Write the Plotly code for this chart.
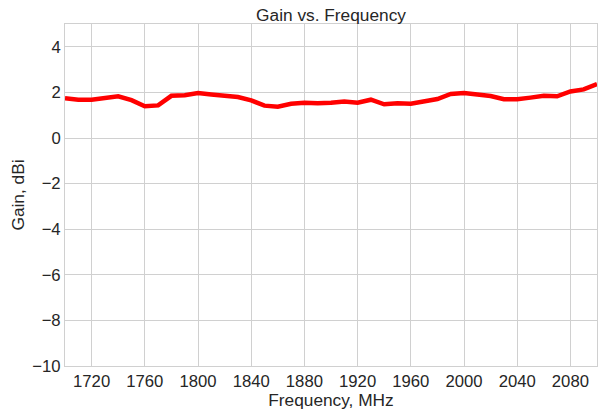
import plotly.graph_objects as go

freq = list(range(1700, 2101, 10))
gain = [1.74, 1.68, 1.68, 1.76, 1.83, 1.66, 1.39, 1.43, 1.85, 1.88,
        1.97, 1.91, 1.85, 1.80, 1.65, 1.42, 1.37, 1.50, 1.55, 1.52,
        1.55, 1.60, 1.55, 1.68, 1.48, 1.52, 1.50, 1.60, 1.71, 1.93,
        1.97, 1.91, 1.84, 1.70, 1.70, 1.77, 1.85, 1.83, 2.04, 2.13, 2.37]
x_ticks = [1720, 1760, 1800, 1840, 1880, 1920, 1960, 2000, 2040, 2080]
y_ticks = [-10, -8, -6, -4, -2, 0, 2, 4]

fig = go.Figure(go.Scatter(x=freq, y=gain, mode="lines",
                           line=dict(color="#ff0000", width=4.5)))

font = "Liberation Sans, Arial, sans-serif"
fig.update_layout(
    width=600, height=410,
    margin=dict(l=65, r=2, t=24, b=42),
    paper_bgcolor="white", plot_bgcolor="white",
    showlegend=False,
    font=dict(family=font, color="#262626", size=16.7),
    title=dict(text="Gain vs. Frequency", x=0.5, xanchor="center", xref="paper",
               y=1, yref="paper", yanchor="bottom", pad=dict(b=3),
               font=dict(size=17.3, color="#262626")),
)
axis_common = dict(showgrid=True, gridcolor="#d0d0d0", gridwidth=1,
                   showline=True, linecolor="#d0d0d0", linewidth=1, mirror=True,
                   zeroline=False, ticks="", tickfont=dict(size=16.7, color="#262626"))
fig.update_xaxes(range=[1700, 2100], tickvals=x_ticks, ticklabelstandoff=0,
                 title=dict(text="Frequency, MHz", font=dict(size=17.3), standoff=5),
                 **axis_common)
fig.update_yaxes(range=[-10, 5], tickvals=y_ticks, ticklabelstandoff=0,
                 title=dict(text="Gain, dBi", font=dict(size=17.3), standoff=3),
                 **axis_common)

fig.write_html("out.html", config={"displayModeBar": False},
               post_script="document.body.style.margin='0';")
